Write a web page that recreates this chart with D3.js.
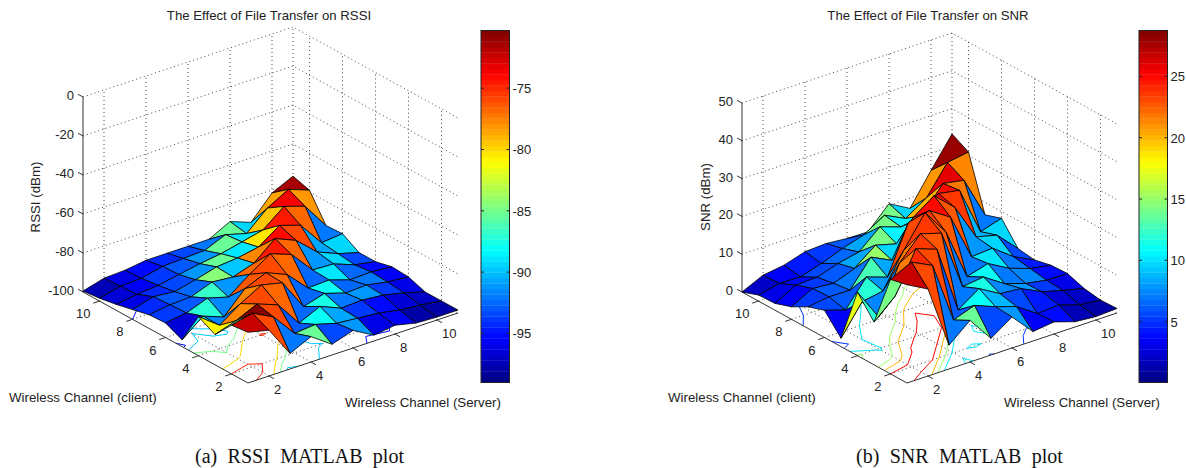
<!DOCTYPE html>
<html>
  <head>
    <meta charset="utf-8">
    <title>File transfer surfaces</title>
    <style>
      html, body { margin: 0; padding: 0; background: #fff; }
      text { font-family: "Liberation Sans", sans-serif; fill: #222; }
      .caption { font-family: "Liberation Serif", serif; font-size: 20px; fill: #111; word-spacing: 5.4px; }
    </style>
  </head>
  <body>
    <script src="https://d3js.org/d3.v7.min.js"></script>
    <svg id="chart" width="1186" height="468"></svg>
    <script>
      const channels = [1, 2, 3, 4, 5, 6, 7, 8, 9, 10, 11]
      const channelTicks = [2, 4, 6, 8, 10]

      // heights: rows are client channel 1..11, columns server channel 1..11
      const rssiZ = [
        [-74, -76.5, -92, -87, -94.5, -91, -97, -95.5, -98, -98.5, -98.5],
        [-75, -72.5, -78, -90, -89, -92, -93, -94, -96, -97, -98.5],
        [-84.5, -81, -76, -80, -93, -88, -92.5, -92, -93, -95.5, -98.5],
        [-80, -88, -80.5, -74.5, -77, -92.8, -89.6, -93, -92.5, -94.5, -95.5],
        [-96.5, -88, -92, -81, -76.5, -81, -91.5, -91, -94.5, -94, -95],
        [-92.5, -91, -87, -90, -82, -75, -79, -90.5, -91, -95, -97],
        [-93, -91.5, -91, -87, -88, -84.5, -75.5, -80, -89.5, -94, -97],
        [-95, -92, -93, -90.5, -87.5, -86.5, -84.5, -77, -80.5, -93, -92],
        [-97, -95.5, -94.5, -92.5, -90.5, -89, -86.5, -84, -75.5, -79, -92.5],
        [-98.5, -96, -95.5, -93, -92.5, -92, -87.5, -90.5, -81, -75, -79],
        [-99.5, -96.5, -96, -94.5, -94.5, -94.5, -94.5, -89, -93, -81.5, -76.5]
      ]
      // colour of each cell as read against the colorbar
      const rssiFace = [
        [-72.5, -76, -92, -85.5, -93.5, -91, -96, -95.5, -98, -98],
        [-85, -70.7, -76, -93, -88, -90.5, -94, -95, -96.5, -97],
        [-81, -77.5, -76, -77, -92.5, -87.5, -92, -91, -94, -96],
        [-88, -91.5, -77.5, -76, -77, -92.5, -88, -92.5, -92, -95.5],
        [-96.5, -87, -91.5, -76.5, -76, -77, -92.5, -89, -92.5, -95],
        [-94, -93, -86.5, -91, -77, -74.5, -77, -91, -89.5, -93.5],
        [-94.5, -93, -92.5, -84.5, -90, -77.5, -74, -76, -90.5, -89.5],
        [-96, -94.5, -93.5, -91, -85.5, -89, -80.5, -74.5, -77, -92],
        [-96.5, -95.5, -94, -93, -91, -85.5, -89, -79.5, -73.5, -78],
        [-97.5, -96, -95, -94.5, -93.5, -92, -85.5, -89.5, -78.5, -71.5]
      ]
      const snrZ = [
        [26, 23, 6.3, 11, 4.4, 8.2, 2.5, 3.2, 1.4, 0.9, 1.2],
        [25, 27.7, 25, 8.7, 10.7, 8.5, 6.7, 3, 3.4, 1.6, 1],
        [11.3, 16.3, 27, 25, 7.1, 10.9, 7.7, 7.2, 4.5, 3, 1.7],
        [16.8, 8.4, 20.8, 26.7, 25, 9, 9.7, 6.1, 4.3, 3.3, 3.2],
        [2.2, 10, 11, 20, 28, 21, 7.4, 9, 5.9, 4, 3],
        [7.2, 5.4, 12.3, 10.4, 23, 24.3, 20.7, 8.4, 8.8, 4.7, 2],
        [5.7, 6.5, 6.4, 13.3, 10.6, 20, 24, 19, 9.4, 8, 2.6],
        [3.3, 6.3, 5.8, 7.9, 12.2, 10.7, 15.3, 20.3, 19.3, 6.5, 8.2],
        [1.8, 4.8, 5, 6.8, 8, 12.8, 10.9, 12, 18.7, 17.7, 6.7],
        [1.6, 2.8, 2.7, 4.4, 6.5, 8.2, 11.6, 8.9, 12.5, 20, 20.9],
        [0, 2.6, 3.4, 5.1, 5.4, 4.9, 4.8, 10.4, 7.3, 15.5, 23.3]
      ]
      const snrFace = [
        [26.5, 23, 7, 13.5, 5.5, 8, 3.5, 4, 1.5, 1],
        [14, 24, 23, 6, 11, 9, 5.5, 4.5, 2.5, 2],
        [12, 22, 23.5, 22.5, 7, 11.5, 7.5, 8, 5, 3],
        [17.5, 7.5, 22, 23.5, 22.5, 7, 11, 7, 7.5, 4],
        [3.5, 12, 8, 23, 23.5, 22.5, 7, 10, 7, 4.5],
        [5.5, 6, 13, 8.5, 22.5, 25, 22.5, 8, 9.5, 5.5],
        [5, 6, 7, 15, 9.5, 22, 25.5, 23.5, 9, 9.5],
        [3.5, 5, 6, 8.5, 14, 10.5, 18.5, 25, 22, 7],
        [3, 4, 5.5, 6.5, 8.5, 14, 10.5, 20, 26, 21.5],
        [2, 3.5, 4.5, 5, 6, 7.5, 14, 9.5, 21, 28]
      ]

      const rssiLevels = [-95, -90, -85, -80, -75]
      const snrLevels = [5, 10, 15, 20, 25]
      const rssiZTicks = [-100, -80, -60, -40, -20, 0]
      const snrZTicks = [0, 10, 20, 30, 40, 50]
      const rssiBarTicks = [-95, -90, -85, -80, -75]
      const snrBarTicks = [5, 10, 15, 20, 25]

      const svg = d3.select('#chart')

      // matlab jet, 64 steps
      function jet(t) {
        const ch = v => Math.round(255 * Math.max(0, Math.min(1, v)))
        const f = 4 * t
        return `rgb(${ch(Math.min(f - 1.5, 4.5 - f))},${ch(Math.min(f - 0.5, 3.5 - f))},${ch(Math.min(f + 0.5, 2.5 - f))})`
      }
      const steps = d3.range(64)

      function drawPanel(p) {
        const g = svg.append('g').attr('transform', `translate(${p.dx},0)`)

        const cx = d3.scaleLinear().domain([1, 11]).range([0, -165])
        const cy = d3.scaleLinear().domain([1, 11]).range([0, -91])
        const sx = d3.scaleLinear().domain([1, 11]).range([0, 210])
        const sy = d3.scaleLinear().domain([1, 11]).range([0, -70])
        const zy = d3.scaleLinear().domain(p.zDomain).range([0, -p.zHeight])

        const ox = 248, oy = 383
        const pt = (c, s, z) => [ox + cx(c) + sx(s), oy + cy(c) + sy(s) + zy(z)]
        const floorZ = p.zDomain[0], topZ = p.zDomain[1]
        const line = d3.line()

        const color = d3.scaleQuantize().domain(p.barDomain).range(steps.map(i => jet((i + 0.5) / 64)))

        // walls and floor grid
        const dotted = g.append('g').attr('fill', 'none').attr('stroke', '#333')
          .attr('stroke-width', 0.9).attr('stroke-dasharray', '1,3')
        const drawDotted = pts => dotted.append('path').attr('d', line(pts))
        p.zTicks.forEach(z => {
          drawDotted([pt(11, 1, z), pt(11, 11, z), pt(1, 11, z)])
        })
        channelTicks.forEach(t => {
          drawDotted([pt(11, t, floorZ), pt(11, t, topZ)])
          drawDotted([pt(t, 11, floorZ), pt(t, 11, topZ)])
          drawDotted([pt(t, 1, floorZ), pt(t, 11, floorZ)])
          drawDotted([pt(1, t, floorZ), pt(11, t, floorZ)])
        })
        drawDotted([pt(11, 11, floorZ), pt(11, 11, topZ)])

        // contour lines on the floor, d3 keeps values at half-integer grid positions
        const flat = d3.merge(p.z)
        const contours = d3.contours().size([11, 11]).thresholds(p.levels)(flat)
        const inside = q => q[0] >= 0.49 && q[0] <= 10.51 && q[1] >= 0.49 && q[1] <= 10.51
        const cg = g.append('g').attr('fill', 'none').attr('stroke-width', 1)
        contours.forEach(ct => {
          ct.coordinates.forEach(poly => poly.forEach(ring => {
            d3.pairs(ring).forEach(([q0, q1]) => {
              if (!inside(q0) || !inside(q1)) return
              cg.append('path')
                .attr('stroke', color(ct.value))
                .attr('d', line([q0, q1].map(q => pt(q[1] + 0.5, q[0] + 0.5, floorZ))))
            })
          }))
        })

        // axis lines
        const axis = g.append('g').attr('fill', 'none').attr('stroke', '#333').attr('stroke-width', 1)
        axis.append('path').attr('d', line([pt(11, 1, floorZ), pt(1, 1, floorZ), pt(1, 11, floorZ)]))
        axis.append('path').attr('d', line([pt(11, 1, floorZ), pt(11, 1, topZ)]))
        channelTicks.forEach(t => {
          axis.append('path').attr('d', line([pt(t, 1, floorZ), pt(t, 0.7, floorZ)]))
          axis.append('path').attr('d', line([pt(1, t, floorZ), pt(0.7, t, floorZ)]))
        })
        p.zTicks.forEach(z => {
          axis.append('path').attr('d', line([pt(11, 1, z), pt(11.3, 1, z)]))
        })

        // surface, far cells first
        const cells = []
        d3.range(10).forEach(a => d3.range(10).forEach(b => cells.push({a, b})))
        cells.sort((m, n) => d3.descending(m.a + m.b, n.a + n.b))
        g.append('g').selectAll('polygon')
          .data(cells)
          .join('polygon')
            .attr('points', d => [
              [d.a, d.b], [d.a + 1, d.b], [d.a + 1, d.b + 1], [d.a, d.b + 1]
            ].map(v => pt(channels[v[0]], channels[v[1]], p.z[v[0]][v[1]])).join(' '))
            .attr('fill', d => color(p.face[d.a][d.b]))
            .attr('stroke', '#000')
            .attr('stroke-width', 0.8)
            .attr('stroke-linejoin', 'round')

        // tick labels
        const labels = g.append('g').attr('font-size', 13)
        channelTicks.forEach(t => {
          const l = pt(t, 1, floorZ)
          labels.append('text').attr('x', l[0] - 9).attr('y', l[1] + 17).attr('text-anchor', 'end').text(t)
          const r = pt(1, t, floorZ)
          labels.append('text').attr('x', r[0] + 5).attr('y', r[1] + 18).text(t)
        })
        p.zTicks.forEach(z => {
          const q = pt(11, 1, z)
          labels.append('text').attr('x', q[0] - 9).attr('y', q[1] + 3).attr('text-anchor', 'end').text(z)
        })

        g.append('text').attr('x', 269).attr('y', 20).attr('text-anchor', 'middle')
          .attr('font-size', 13.2).text(p.title)
        g.append('text').attr('x', 9).attr('y', 402).attr('font-size', 13.3).text('Wireless Channel (client)')
        g.append('text').attr('x', 345).attr('y', 407).attr('font-size', 13.3).text('Wireless Channel (Server)')
        g.append('text').attr('transform', `translate(${p.zLabelX},${p.zLabelY}) rotate(-90)`)
          .attr('text-anchor', 'middle').attr('font-size', 13.3).text(p.zLabel)

        // colorbar
        const barX = p.barX, barW = 28.5, barTop = 30.5, barBottom = 382.5
        const barY = d3.scaleLinear().domain(p.barDomain).range([barBottom, barTop])
        const stepH = (barBottom - barTop) / 64
        g.append('g').selectAll('rect')
          .data(steps)
          .join('rect')
            .attr('x', barX)
            .attr('y', i => barBottom - (i + 1) * stepH)
            .attr('width', barW)
            .attr('height', stepH + 0.3)
            .attr('fill', i => jet((i + 0.5) / 64))
        g.append('rect').attr('x', barX).attr('y', barTop).attr('width', barW)
          .attr('height', barBottom - barTop).attr('fill', 'none').attr('stroke', '#222').attr('stroke-width', 1)
        p.barTicks.forEach(t => {
          const y = barY(t)
          g.append('path').attr('d', line([[barX, y], [barX + 3, y]])).attr('stroke', '#222')
          g.append('path').attr('d', line([[barX + barW - 3, y], [barX + barW, y]])).attr('stroke', '#222')
          g.append('text').attr('x', barX + barW + 3).attr('y', y + 5).attr('font-size', 13).text(t)
        })

        svg.append('text').attr('class', 'caption').attr('x', p.captionX).attr('y', 463).text(p.caption)
      }

      drawPanel({
        dx: 0, title: 'The Effect of File Transfer on RSSI', zLabel: 'RSSI (dBm)',
        zLabelX: 40, zLabelY: 197, z: rssiZ, face: rssiFace, zDomain: [-100, 0], zHeight: 195,
        zTicks: rssiZTicks, levels: rssiLevels, barX: 481, barDomain: [-99, -70.3], barTicks: rssiBarTicks,
        caption: '(a) RSSI MATLAB plot', captionX: 195
      })
      drawPanel({
        dx: 659, title: 'The Effect of File Transfer on SNR', zLabel: 'SNR (dBm)',
        zLabelX: 51, zLabelY: 197, z: snrZ, face: snrFace, zDomain: [0, 50], zHeight: 189,
        zTicks: snrZTicks, levels: snrLevels, barX: 480, barDomain: [0.04, 28.74], barTicks: snrBarTicks,
        caption: '(b) SNR MATLAB plot', captionX: 856
      })
    </script>
  </body>
</html>
